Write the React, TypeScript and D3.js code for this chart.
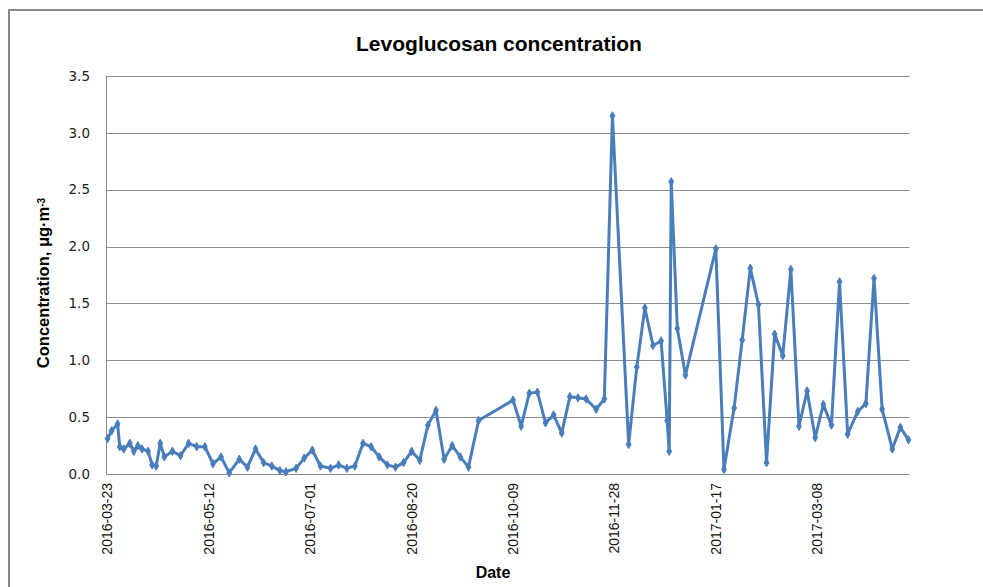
import React, { useEffect, useRef } from 'react'
import * as d3 from 'd3'

// sampling dates and levoglucosan concentrations (µg/m3)
const dates = [
  '2016-03-23', '2016-03-25', '2016-03-28', '2016-03-29', '2016-03-31', '2016-04-03', '2016-04-05', '2016-04-07',
  '2016-04-09', '2016-04-12', '2016-04-14', '2016-04-16', '2016-04-18', '2016-04-20', '2016-04-24', '2016-04-28',
  '2016-05-02', '2016-05-06', '2016-05-10', '2016-05-14', '2016-05-18', '2016-05-22', '2016-05-27', '2016-05-31',
  '2016-06-04', '2016-06-08', '2016-06-12', '2016-06-16', '2016-06-19', '2016-06-24', '2016-06-28', '2016-07-02',
  '2016-07-06', '2016-07-11', '2016-07-15', '2016-07-19', '2016-07-23', '2016-07-27', '2016-07-31', '2016-08-04',
  '2016-08-08', '2016-08-12', '2016-08-16', '2016-08-20', '2016-08-24', '2016-08-28', '2016-09-01', '2016-09-05',
  '2016-09-09', '2016-09-13', '2016-09-17', '2016-09-22', '2016-10-09', '2016-10-13', '2016-10-17', '2016-10-21',
  '2016-10-25', '2016-10-29', '2016-11-02', '2016-11-06', '2016-11-10', '2016-11-14', '2016-11-19', '2016-11-23',
  '2016-11-27', '2016-12-05', '2016-12-09', '2016-12-13', '2016-12-17', '2016-12-21', '2016-12-24', '2016-12-25',
  '2016-12-26', '2016-12-29', '2017-01-02', '2017-01-17', '2017-01-21', '2017-01-26', '2017-01-30', '2017-02-03',
  '2017-02-07', '2017-02-11', '2017-02-15', '2017-02-19', '2017-02-23', '2017-02-27', '2017-03-03', '2017-03-07',
  '2017-03-11', '2017-03-15', '2017-03-19', '2017-03-23', '2017-03-28', '2017-04-01', '2017-04-05', '2017-04-09',
  '2017-04-14', '2017-04-18', '2017-04-22'
]

const values = [
  0.31, 0.38, 0.44, 0.24, 0.22, 0.27, 0.20, 0.25,
  0.22, 0.20, 0.08, 0.07, 0.27, 0.15, 0.20, 0.16,
  0.27, 0.24, 0.24, 0.09, 0.15, 0.01, 0.13, 0.06,
  0.22, 0.10, 0.07, 0.03, 0.02, 0.05, 0.14, 0.21,
  0.07, 0.05, 0.08, 0.05, 0.07, 0.27, 0.24, 0.15,
  0.08, 0.06, 0.10, 0.20, 0.12, 0.43, 0.56, 0.13,
  0.25, 0.15, 0.06, 0.47, 0.65, 0.42, 0.71, 0.72,
  0.45, 0.52, 0.36, 0.68, 0.67, 0.66, 0.57, 0.66,
  3.15, 0.26, 0.94, 1.46, 1.13, 1.17, 0.47, 0.20,
  2.57, 1.28, 0.87, 1.98, 0.04, 0.58, 1.18, 1.81,
  1.49, 0.10, 1.23, 1.04, 1.80, 0.42, 0.73, 0.32,
  0.61, 0.43, 1.69, 0.35, 0.55, 0.62, 1.72, 0.57,
  0.22, 0.41, 0.30
]

const yTicks = [0, 0.5, 1.0, 1.5, 2.0, 2.5, 3.0, 3.5]
const xTickLabels = [
  '2016-03-23', '2016-05-12', '2016-07-01', '2016-08-20',
  '2016-10-09', '2016-11-28', '2017-01-17', '2017-03-08'
]

const W = 983
const H = 587
const plot = { left: 106.5, right: 909.5, top: 76, bottom: 474 }
const lineColor = '#4a7ebb'
const gridColor = '#8c8c8c'

export default function App() {
  const ref = useRef<SVGSVGElement>(null)

  useEffect(() => {
    const svg = d3.select(ref.current)
    svg.selectAll('*').remove()

    const parse = d3.utcParse('%Y-%m-%d')
    const data = dates.map((d, i) => ({ date: parse(d) as Date, value: values[i] }))
    const halfDay = 12 * 3600 * 1000

    const x = d3.scaleUtc()
      .domain([
        new Date(data[0].date.getTime() - halfDay),
        new Date(data[data.length - 1].date.getTime() + halfDay)
      ])
      .range([plot.left, plot.right])
    const y = d3.scaleLinear().domain([0, 3.5]).range([plot.bottom, plot.top])

    // chart area border
    svg.append('rect')
      .attr('x', 9).attr('y', 10)
      .attr('width', 1000).attr('height', 620)
      .attr('fill', '#fff')
      .attr('stroke', '#878787').attr('stroke-width', 2)

    // title
    svg.append('text')
      .attr('x', 499).attr('y', 51)
      .attr('text-anchor', 'middle')
      .style('font-family', "'Liberation Sans', Arial, sans-serif")
      .style('font-size', '21px').style('font-weight', 'bold')
      .text('Levoglucosan concentration')

    // gridlines
    svg.append('g').selectAll('line')
      .data(yTicks.slice(1))
      .enter().append('line')
      .attr('x1', plot.left).attr('x2', plot.right)
      .attr('y1', d => Math.round(y(d)) + 0.5).attr('y2', d => Math.round(y(d)) + 0.5)
      .attr('stroke', gridColor).attr('stroke-width', 1)

    // axes lines
    svg.append('line')
      .attr('x1', plot.left).attr('x2', plot.left)
      .attr('y1', plot.top).attr('y2', plot.bottom + 0.5)
      .attr('stroke', gridColor)
    svg.append('line')
      .attr('x1', plot.left).attr('x2', plot.right)
      .attr('y1', plot.bottom + 0.5).attr('y2', plot.bottom + 0.5)
      .attr('stroke', gridColor)

    // y tick labels
    svg.append('g').selectAll('text')
      .data(yTicks)
      .enter().append('text')
      .attr('x', 90).attr('y', d => y(d))
      .attr('dy', '0.35em')
      .attr('text-anchor', 'end')
      .style('font-family', "'DejaVu Sans', Tahoma, sans-serif")
      .style('font-size', '13.5px').style('fill', '#222')
      .text(d => d3.format('.1f')(d))

    // x tick labels, rotated
    svg.append('g').selectAll('text')
      .data(xTickLabels)
      .enter().append('text')
      .attr('transform', d => 'translate(' + x(parse(d) as Date) + ',483) rotate(-90)')
      .attr('dy', '0.35em')
      .attr('text-anchor', 'end')
      .style('font-family', "'Liberation Sans', Arial, sans-serif")
      .style('font-size', '14px').style('fill', '#111')
      .text(d => d)

    // axis titles
    svg.append('text')
      .attr('x', 493).attr('y', 578)
      .attr('text-anchor', 'middle')
      .style('font-family', "'Liberation Sans', Arial, sans-serif")
      .style('font-size', '16px').style('font-weight', 'bold')
      .text('Date')

    const yTitle = svg.append('text')
      .attr('transform', 'translate(49,283) rotate(-90)')
      .attr('text-anchor', 'middle')
      .style('font-family', "'Liberation Sans', Arial, sans-serif")
      .style('font-size', '16.5px').style('font-weight', 'bold')
    yTitle.append('tspan').text('Concentration, μg·m')
    yTitle.append('tspan')
      .attr('dy', '-0.45em')
      .style('font-size', '10px')
      .text('-3')

    // series line
    const line = d3.line<{ date: Date; value: number }>()
      .x(d => x(d.date))
      .y(d => y(d.value))
    svg.append('path')
      .datum(data)
      .attr('d', line)
      .attr('fill', 'none')
      .attr('stroke', lineColor)
      .attr('stroke-width', 3)
      .attr('stroke-linejoin', 'round')

    // diamond markers
    const diamond = d3.symbol().type(d3.symbolDiamond).size(20)
    svg.append('g').selectAll('path')
      .data(data)
      .enter().append('path')
      .attr('d', diamond)
      .attr('transform', d => 'translate(' + x(d.date) + ',' + y(d.value) + ')')
      .attr('fill', lineColor)
      .attr('stroke', lineColor)
      .attr('stroke-width', 1)
  }, [])

  return (
    <svg
      ref={ref}
      width={W}
      height={H}
      style={{ position: 'absolute', left: 0, top: 0, background: '#fff' }}
    />
  )
}
